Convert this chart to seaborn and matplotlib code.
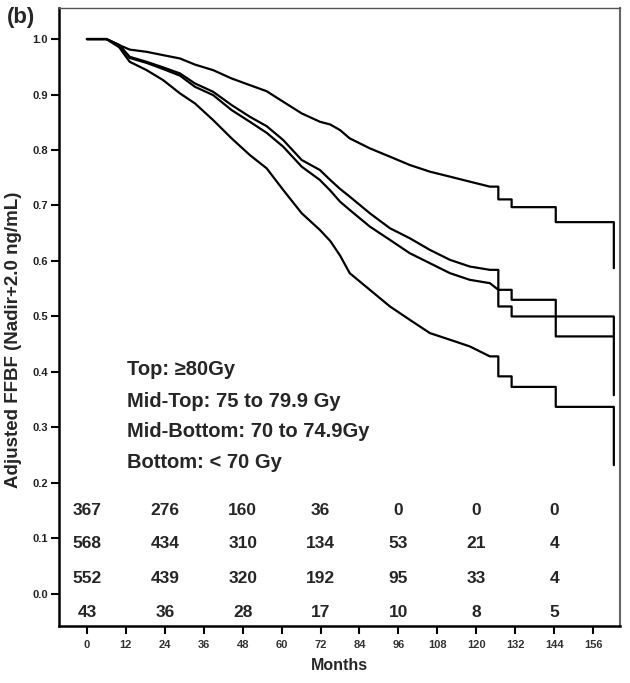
import numpy as np
import pandas as pd
import matplotlib
matplotlib.use("Agg")
import matplotlib.pyplot as plt
import seaborn as sns

# ---------------- data ----------------
top_months = [0, 6, 10, 13.2, 18.4, 23.5, 28.7, 33.3, 38.9, 44.6, 50.2, 55.4, 60.5,
              66.2, 71.8, 75, 78, 81, 87.2, 93.4, 99.5, 105.7, 111.9, 118, 124.2,
              126.8, 126.8, 130.9, 130.9, 144.5, 144.5, 162.4, 162.4]
top_surv = [1.0, 1.0, 0.989, 0.981, 0.977, 0.971, 0.965, 0.954, 0.944, 0.929, 0.917, 0.906, 0.887,
            0.866, 0.851, 0.846, 0.836, 0.821, 0.803, 0.788, 0.773, 0.761, 0.752, 0.743, 0.734,
            0.734, 0.711, 0.711, 0.697, 0.697, 0.670, 0.670, 0.587]

midtop_months = [0, 6, 10, 13.2, 18.4, 23.5, 28.7, 33.3, 38.9, 44.6, 50.2, 55.4, 60.5,
                 66.2, 71.8, 75, 78, 81, 87.2, 93.4, 99.5, 105.7, 111.9, 118, 124.2,
                 126.8, 126.8, 130.9, 130.9, 162.4, 162.4]
midtop_surv = [1.0, 1.0, 0.989, 0.968, 0.959, 0.949, 0.938, 0.920, 0.905, 0.881, 0.860, 0.843, 0.818,
               0.782, 0.764, 0.746, 0.730, 0.716, 0.686, 0.659, 0.641, 0.620, 0.602, 0.590, 0.584,
               0.584, 0.518, 0.518, 0.500, 0.500, 0.358]

midbot_months = [0, 6, 10, 13.2, 18.4, 23.5, 28.7, 33.3, 38.9, 44.6, 50.2, 55.4, 60.5,
                 66.2, 71.8, 75, 78, 81, 87.2, 93.4, 99.5, 105.7, 111.9, 118, 124.2,
                 126.8, 130.9, 130.9, 144.5, 144.5, 162.4]
midbot_surv = [1.0, 1.0, 0.989, 0.966, 0.957, 0.946, 0.934, 0.914, 0.899, 0.872, 0.851, 0.831, 0.806,
               0.770, 0.746, 0.727, 0.707, 0.692, 0.662, 0.638, 0.614, 0.596, 0.578, 0.566, 0.560,
               0.548, 0.548, 0.530, 0.530, 0.464, 0.464]

bottom_months = [0, 6, 10, 11.2, 13.2, 18.4, 23.5, 28.7, 33.3, 38.9, 44.6, 50.2, 55.4, 60.5,
                 66.2, 71.8, 75, 78, 81, 87.2, 93.4, 99.5, 105.7, 111.9, 118, 124.2,
                 126.8, 126.8, 130.9, 130.9, 144.5, 144.5, 162.4, 162.4]
bottom_surv = [1.0, 1.0, 0.985, 0.975, 0.959, 0.944, 0.926, 0.902, 0.884, 0.854, 0.821, 0.791, 0.767, 0.728,
               0.686, 0.656, 0.636, 0.610, 0.578, 0.548, 0.518, 0.494, 0.470, 0.458, 0.446, 0.428,
               0.428, 0.392, 0.392, 0.373, 0.373, 0.337, 0.337, 0.232]

group_labels = ["Top: \u226580Gy", "Mid-Top: 75 to 79.9 Gy",
                "Mid-Bottom: 70 to 74.9Gy", "Bottom: < 70 Gy"]

risk_months = [0, 24, 48, 72, 96, 120, 144]
risk_top = [367, 276, 160, 36, 0, 0, 0]
risk_midtop = [568, 434, 310, 134, 53, 21, 4]
risk_midbot = [552, 439, 320, 192, 95, 33, 4]
risk_bottom = [43, 36, 28, 17, 10, 8, 5]

x_ticks = list(range(0, 157, 12))
y_ticks = [round(0.1 * i, 1) for i in range(11)]

# ---------------- build long table ----------------
frames = []
for name, m, s in [("top", top_months, top_surv), ("midtop", midtop_months, midtop_surv),
                   ("midbot", midbot_months, midbot_surv), ("bottom", bottom_months, bottom_surv)]:
    frames.append(pd.DataFrame({"month": m, "surv": s, "group": name}))
df = pd.concat(frames, ignore_index=True)

# ---------------- style ----------------
sns.set_theme(style="white")
plt.rcParams["font.family"] = ["Liberation Sans", "DejaVu Sans"]

fig = plt.figure(figsize=(6.3, 6.83), dpi=100)
ax = fig.add_axes([59 / 630, 1 - 626 / 683, (620 - 59) / 630, (626 - 8) / 683])

sns.lineplot(data=df, x="month", y="surv", hue="group", units="group",
             estimator=None, sort=False, palette=["black"] * 4, legend=False,
             linewidth=1.6, ax=ax)

ax.set_xlim(-8.6, 164.3)
ax.set_ylim(-0.058, 1.056)
ax.set_xticks(x_ticks)
ax.set_xticklabels([str(t) for t in x_ticks], fontsize=8, fontweight="bold", color="#333333")
ax.set_yticks(y_ticks)
ax.set_yticklabels([f"{t:.1f}" for t in y_ticks], fontsize=8, fontweight="bold", color="#222222")
ax.tick_params(axis="both", direction="out", length=6, width=1.5, color="black",
               bottom=True, left=True)
ax.tick_params(axis="x", pad=4)
ax.tick_params(axis="y", pad=2)

ax.set_xlabel("Months", fontsize=11.5, fontweight="bold", labelpad=6)
ax.set_ylabel("Adjusted FFBF (Nadir+2.0 ng/mL)", fontsize=13.5, fontweight="bold")
ax.yaxis.set_label_coords(-0.066, 0.463)

for side in ["left", "bottom"]:
    ax.spines[side].set_color("black")
    ax.spines[side].set_linewidth(1.8)
ax.spines["top"].set_color("#555555")
ax.spines["top"].set_linewidth(1.0)
ax.spines["right"].set_color("#666666")
ax.spines["right"].set_linewidth(1.5)

# group descriptions
for lab, yb in zip(group_labels, [0.395, 0.337, 0.283, 0.227]):
    ax.text(12.3, yb, lab, fontsize=14.5, fontweight="bold", ha="left", va="baseline",
            family=["Liberation Sans", "DejaVu Sans"])

# numbers at risk
for row, yb in zip([risk_top, risk_midtop, risk_midbot, risk_bottom],
                   [0.142, 0.082, 0.020, -0.041]):
    for mth, n in zip(risk_months, row):
        ax.text(mth, yb, str(n), fontsize=12.5, fontweight="bold", ha="center", va="baseline")

fig.text(7 / 630, 1 - 18 / 683, "(b)", fontsize=16, fontweight="bold", ha="left", va="center")

fig.savefig("out.png", dpi=100)
